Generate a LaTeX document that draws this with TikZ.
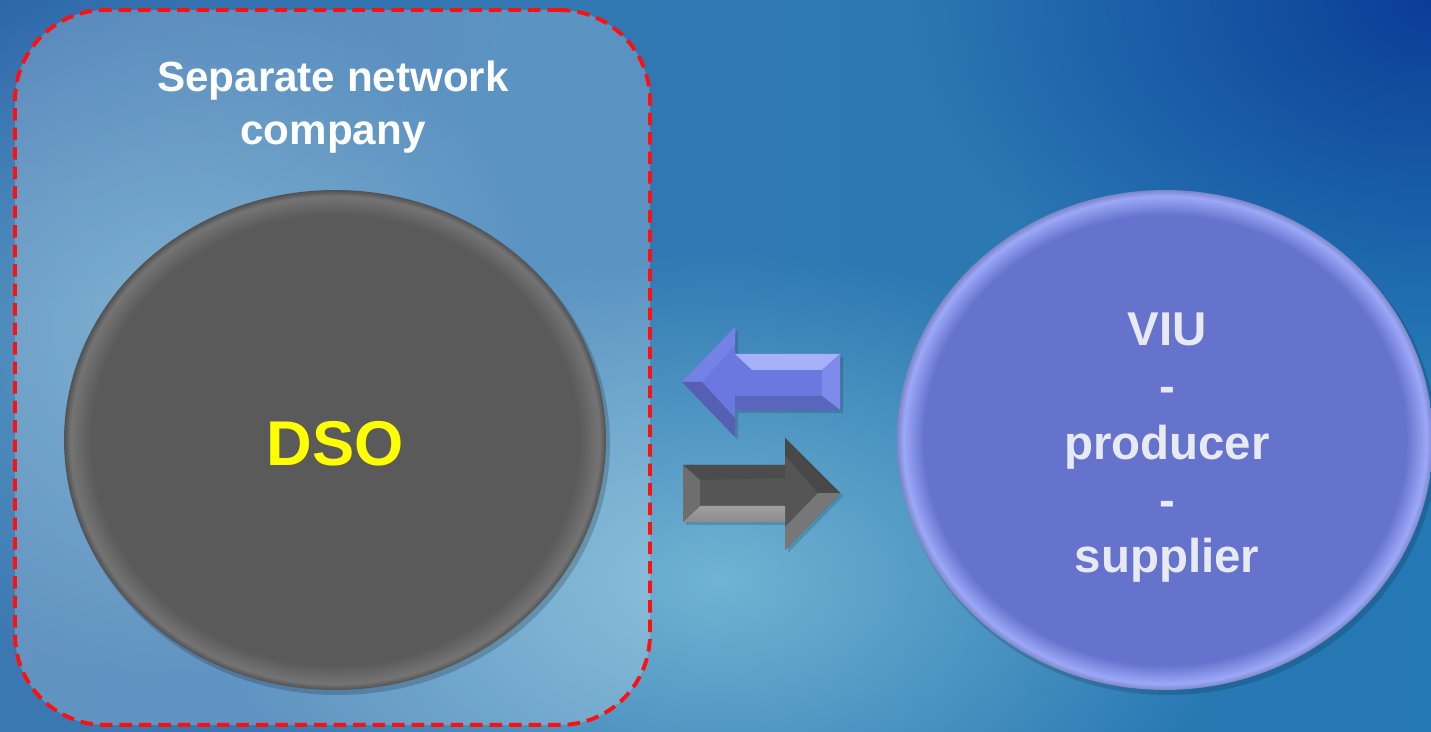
\documentclass[tikz,border=0pt]{standalone}
\usepackage{fontspec}
\setmainfont{Liberation Sans}
\usetikzlibrary{shapes.geometric,fadings}
\definecolor{bgL}{HTML}{3B78B2}
\definecolor{bgM}{HTML}{118EC4}
\definecolor{bgR}{HTML}{2478B4}
\definecolor{bgTR}{HTML}{0A3A96}
\definecolor{glow}{HTML}{8CCDE0}
\definecolor{dashred}{HTML}{FF1010}
\definecolor{grayRim}{HTML}{747474}
\definecolor{grayIn}{HTML}{5A5A5A}
\definecolor{blueRim}{HTML}{9CA8F8}
\definecolor{blueIn}{HTML}{6673CC}
\definecolor{viutext}{HTML}{E8EAF2}
\definecolor{dsoyellow}{HTML}{FFFF00}
\definecolor{arBlue}{HTML}{6A78E0}
\definecolor{arGray}{HTML}{555555}
\tikzfading[name=softglow, inner color=transparent!0, outer color=transparent!100]
\pgfdeclareradialshading{rimgray}{\pgfpoint{0bp}{0bp}}{color(0bp)=(grayIn); color(22.5bp)=(grayIn); color(24.4bp)=(grayRim); color(25bp)=(grayRim!70!black); color(50bp)=(grayRim!70!black)}
\pgfdeclareradialshading{rimblue}{\pgfpoint{0bp}{0bp}}{color(0bp)=(blueIn); color(22.5bp)=(blueIn); color(24.4bp)=(blueRim); color(25bp)=(blueRim!80!black); color(50bp)=(blueRim!80!black)}
\tikzset{
  titletext/.style={font=\bfseries\fontsize{24}{30}\selectfont, text=white, align=center},
  viutxt/.style={font=\bfseries\fontsize{27}{32.3}\selectfont, text=viutext, align=center},
  dsotxt/.style={font=\bfseries\fontsize{36}{40}\selectfont, text=dsoyellow},
  groupbox/.style={draw=dashred, line width=2.2pt, dash pattern=on 0.25cm off 0.14cm,
    rounded corners=1.8cm, fill=white, fill opacity=0.2, draw opacity=1,
    minimum width=12.7cm, minimum height=14.3cm, inner sep=0pt},
  bubble/.style={ellipse, inner sep=0pt},
}
\begin{document}
\begin{tikzpicture}[x=0.02cm,y=-0.02cm]
\useasboundingbox (0,0) rectangle (1431,732);
% background
\shade[left color=bgL, middle color=bgM, right color=bgR] (0,0) rectangle (1431,732);
\fill[bgTR, opacity=0.95, path fading=softglow] (1431,0) ellipse [x radius=520, y radius=360];
\fill[bgTR, opacity=0.25, path fading=softglow] (0,0) ellipse [x radius=500, y radius=300];
\fill[glow, opacity=0.7, path fading=softglow] (720,580) ellipse [x radius=520, y radius=330];
\fill[glow, opacity=0.45, path fading=softglow] (180,330) ellipse [x radius=360, y radius=360];
% dashed group
\node[groupbox] (box) at (332.5,367.5) {};
\node[titletext] (title) at (333,107) {Separate network\\company};
% DSO circle
\fill[black, opacity=0.18] (338,444) ellipse [x radius=272, y radius=251];
\node[bubble, shading=rimgray, minimum width=10.84cm, minimum height=10cm] (dso) at (335,440) {};
\node[dsotxt] (dsolabel) at (dso.center) [yshift=-0.08cm] {DSO};
% VIU circle
\fill[black, opacity=0.15] (1168,444) ellipse [x radius=269, y radius=251];
\node[bubble, shading=rimblue, minimum width=10.72cm, minimum height=10cm] (viu) at (1165,440) {};
\node[viutxt] (viulabel) at (1167,448) {VIU\\-\\producer\\-\\supplier};
% left (blue) block arrow
\fill[black, opacity=0.15] (685,385) -- (738,330) -- (738,357) -- (843,357) -- (843,413) -- (738,413) -- (738,440) -- cycle;
\fill[arBlue] (682,382) -- (735,327) -- (735,354) -- (840,354) -- (840,410) -- (735,410) -- (735,437) -- cycle;
\fill[blueRim!90!white] (735,354) -- (840,354) -- (822,370) -- (752,370) -- (735,354) -- cycle;
\fill[arBlue!60!blueRim] (840,354) -- (840,410) -- (822,396) -- (822,370) -- cycle;
\fill[arBlue!85!black] (735,410) -- (840,410) -- (822,396) -- (735,396) -- cycle;
\fill[arBlue!80!blueRim] (682,382) -- (735,327) -- (735,345) -- (702,382) -- cycle;
\fill[arBlue!80!black] (682,382) -- (702,382) -- (735,418) -- (735,437) -- cycle;
% right (gray) block arrow
\fill[black, opacity=0.15] (686,468) -- (788,468) -- (788,441) -- (843,496) -- (788,553) -- (788,525) -- (686,525) -- cycle;
\fill[arGray] (683,465) -- (785,465) -- (785,438) -- (840,493) -- (785,550) -- (785,522) -- (683,522) -- cycle;
\fill[arGray!90!black] (683,465) -- (785,465) -- (785,478) -- (700,480) -- cycle;
\shade[top color=gray!75, bottom color=gray!90] (683,522) -- (700,506) -- (785,506) -- (785,522) -- cycle;
\fill[arGray!85!white] (683,465) -- (700,480) -- (700,506) -- (683,522) -- cycle;
\fill[arGray!80!white] (840,493) -- (818,493) -- (785,527) -- (785,550) -- cycle;
\fill[arGray!85!black] (840,493) -- (785,438) -- (785,455) -- (818,493) -- cycle;
\end{tikzpicture}
\end{document}
